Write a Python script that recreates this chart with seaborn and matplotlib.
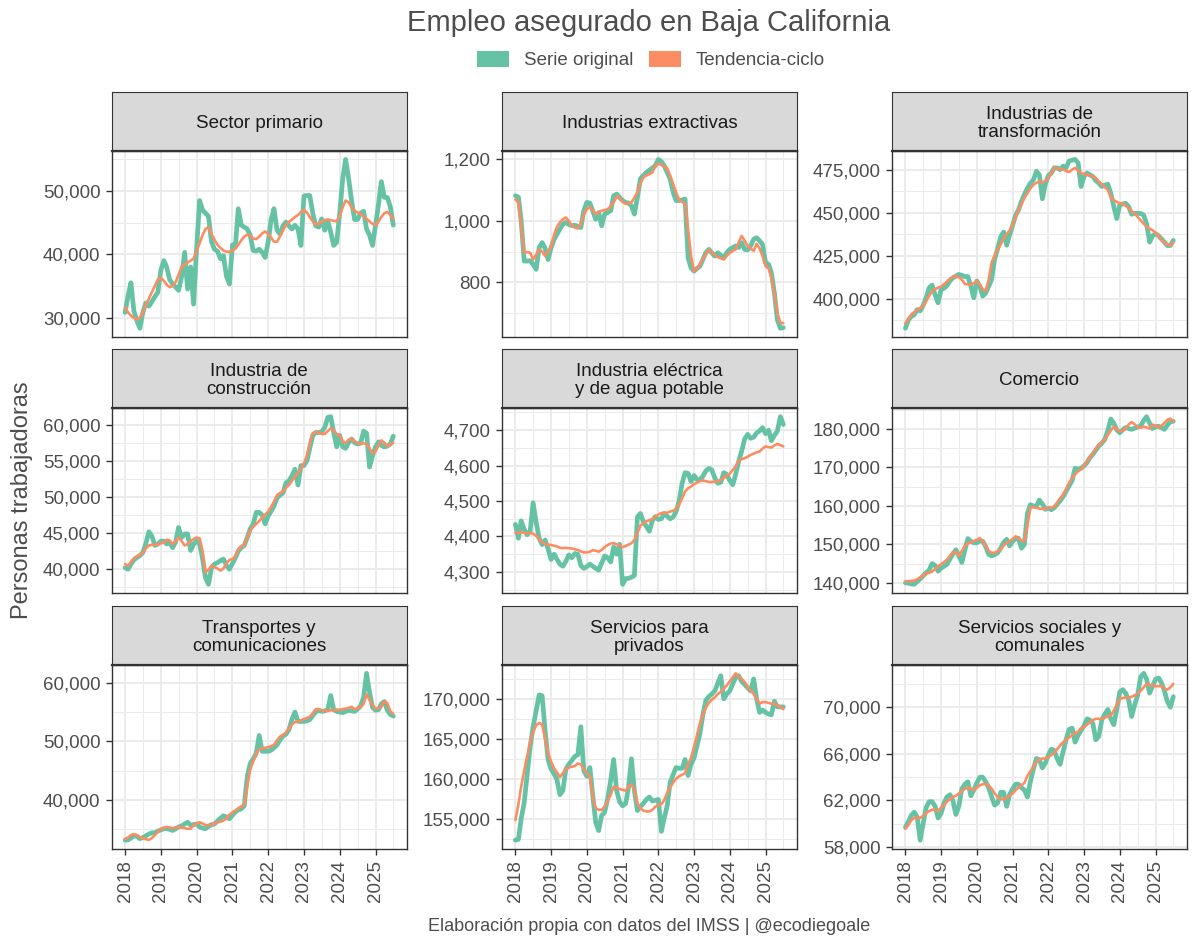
import numpy as np
import pandas as pd
import matplotlib
matplotlib.use("Agg")
import matplotlib.pyplot as plt
import matplotlib.dates as mdates
from matplotlib.ticker import MultipleLocator, FuncFormatter
from matplotlib.patches import Patch
import seaborn as sns

# ---------------- DATA ----------------
fechas = pd.date_range("2018-01-01", periods=91, freq="MS")

sectores = [
    "Sector primario", "Industrias extractivas", "Industrias de\ntransformación",
    "Industria de\nconstrucción", "Industria eléctrica\ny de agua potable", "Comercio",
    "Transportes y\ncomunicaciones", "Servicios para\nprivados", "Servicios sociales y\ncomunales",
]
series = ["Serie original", "Tendencia-ciclo"]

primario_orig = [
    30800, 33500, 35500, 31000, 29500, 28300, 30800, 32300, 31800, 32500, 33300, 34000,
    37500, 39000, 38000, 36000, 35300, 34800, 34300, 36500, 40300, 34500, 38000, 32100,
    41000, 48500, 47000, 46500, 46000, 42000, 40800, 40500, 39300, 39800, 36500, 35300,
    41500, 41500, 47200, 44600, 44300, 44000, 43000, 40600, 40500, 40800, 40300, 39500,
    42000, 45600, 47200, 43800, 43200, 44500, 45100, 44500, 44000, 44600, 44000, 41400,
    49200, 49300, 49300, 46500, 44500, 44300, 45600, 43800, 45300, 43500, 41400, 41900,
    46500, 52000, 55000, 52000, 48500, 45500, 45500, 46500, 46800, 44000, 43000, 41400,
    44600, 48000, 51500, 49000, 49000, 47500, 44600,
]
primario_tend = [
    31600, 30800, 30300, 29900, 29700, 30000, 30800, 32000, 33000, 34000, 35000, 36000,
    36300, 35800, 35200, 34800, 35000, 35600, 36800, 38000, 38400, 38700, 39000, 39300,
    40500, 41800, 43000, 44000, 44300, 43200, 42300, 41500, 41000, 40600, 40400, 40400,
    40600, 40900, 41500, 42200, 42800, 43100, 42900, 42500, 42400, 42800, 43300, 43600,
    43200, 42600, 42000, 42000, 42800, 43800, 44600, 45100, 45500, 45900, 46200, 46700,
    47000, 46600, 45900, 45200, 44700, 44800, 45100, 45400, 45500, 45400, 45300, 45200,
    46000, 47500, 48500, 48200, 47400, 46900, 46600, 46400, 46000, 45600, 45200, 44800,
    44600, 45200, 45900, 46500, 46700, 46200, 45600,
]

extractivas_orig = [
    1082, 1077, 1000, 869, 869, 870, 858, 842, 913, 929, 910, 874,
    913, 940, 956, 973, 989, 995, 988, 984, 986, 982, 978, 1033,
    1060, 1058, 1033, 1005, 1027, 984, 1022, 1027, 1033, 1082, 1087, 1076,
    1066, 1060, 1058, 1049, 1022, 1076, 1137, 1148, 1158, 1165, 1172, 1180,
    1200, 1193, 1180, 1158, 1137, 1093, 1066, 1066, 1068, 1071, 880, 847,
    836, 845, 852, 874, 896, 907, 896, 885, 896, 888, 880, 896,
    907, 913, 918, 913, 929, 907, 905, 918, 940, 945, 935, 923,
    863, 858, 831, 765, 678, 650, 652,
]
extractivas_tend = [
    1070, 1060, 980, 896, 898, 896, 874, 890, 907, 900, 885, 900,
    918, 955, 980, 995, 1005, 1011, 1000, 984, 978, 975, 990, 1020,
    1038, 1044, 1035, 1022, 1028, 1033, 1035, 1038, 1048, 1060, 1080, 1075,
    1062, 1056, 1055, 1060, 1075, 1093, 1120, 1142, 1148, 1152, 1158, 1180,
    1186, 1182, 1177, 1172, 1148, 1120, 1093, 1068, 1062, 1055, 973, 885,
    836, 845, 858, 875, 891, 905, 898, 888, 882, 878, 874, 886,
    896, 902, 907, 930, 951, 935, 918, 910, 902, 925, 910, 885,
    852, 845, 815, 760, 700, 667, 667,
]

transformacion_orig = [
    382700, 387600, 389500, 390600, 393500, 392800, 395900, 400400, 406300, 407800, 402000, 397500,
    405300, 406000, 407500, 410200, 412000, 413100, 414000, 413500, 412700, 412800, 407200, 400400,
    410200, 407200, 401400, 403300, 407000, 411200, 423000, 428900, 436000, 438700, 431000, 437000,
    442600, 448500, 451400, 456500, 460500, 464200, 467000, 469000, 474000, 472000, 458000, 466500,
    471500, 473000, 476000, 476000, 475000, 477000, 476000, 480000, 480500, 480900, 478900, 465200,
    471100, 473000, 472000, 471000, 468500, 467100, 465200, 466000, 466500, 461300, 453400, 446500,
    454400, 455000, 455400, 453400, 449000, 449500, 449500, 449500, 448500, 443500, 432800, 436500,
    437700, 436500, 434700, 432800, 430800, 430800, 433800,
]
transformacion_tend = [
    385600, 388000, 390600, 392000, 393300, 394500, 395800, 398500, 401500, 404300, 405500, 406300,
    407000, 408300, 409800, 411500, 412600, 413100, 412300, 411000, 408500, 408200, 408200, 409000,
    410200, 408000, 405500, 404300, 411000, 421000, 425000, 428500, 431500, 434800, 437500, 439500,
    443000, 447500, 451500, 455000, 458500, 461300, 464000, 466200, 467300, 468100, 467500, 468500,
    470000, 473000, 476000, 475700, 475300, 475000, 474200, 473600, 475000, 476000, 474500, 473000,
    472400, 472000, 471700, 471000, 470100, 468000, 466500, 464800, 463200, 458800, 457300, 456200,
    455400, 455000, 454000, 452400, 450800, 449500, 447500, 445500, 443500, 441800, 440700, 439700,
    438200, 436700, 434000, 432500, 431500, 430800, 432800,
]

construccion_orig = [
    40200, 40000, 40700, 41300, 41600, 41900, 42300, 43600, 45200, 44600, 43300, 43500,
    43900, 43900, 43500, 43700, 43000, 43800, 45800, 44400, 44900, 44900, 42600, 43500,
    43900, 43500, 41500, 38800, 37900, 40200, 40700, 40900, 41200, 41400, 40500, 40000,
    40800, 41600, 42500, 43000, 43300, 44400, 45600, 46300, 47900, 47900, 47500, 46300,
    47400, 48100, 48800, 49900, 50300, 50600, 52000, 52300, 53000, 53900, 51700, 54400,
    54400, 55100, 56800, 58600, 59000, 59000, 59100, 59700, 61100, 61200, 59000, 57000,
    58600, 57000, 56800, 57600, 58100, 57600, 57400, 57500, 59200, 58900, 54200, 55800,
    57000, 57700, 57200, 57000, 57100, 57400, 58500,
]
construccion_tend = [
    40700, 40500, 41000, 41500, 41800, 42000, 42300, 42900, 43300, 43400, 43400, 43400,
    43600, 43700, 44100, 44000, 43500, 43900, 44400, 43900, 43300, 43500, 43900, 44200,
    44400, 44300, 42500, 39600, 39900, 40500, 40300, 40100, 39800, 40100, 40800, 41300,
    41400, 41800, 42800, 43200, 43400, 44500, 45400, 45900, 46300, 46700, 47200, 47600,
    48000, 48700, 49400, 50300, 50600, 50800, 51300, 51700, 52300, 52900, 53300, 54000,
    54700, 55800, 57600, 58900, 59100, 59000, 58800, 58800, 59200, 59600, 59300, 58800,
    58600, 57800, 57500, 58000, 58100, 57800, 57500, 57500, 57500, 57400, 56800, 56100,
    56400, 57200, 57900, 57600, 57100, 57300, 57600,
]

electrica_orig = [
    4434, 4395, 4444, 4420, 4405, 4415, 4495, 4440, 4395, 4377, 4390, 4365,
    4335, 4350, 4336, 4322, 4316, 4330, 4348, 4340, 4352, 4350, 4318, 4310,
    4315, 4322, 4316, 4310, 4305, 4325, 4345, 4340, 4328, 4370, 4350, 4378,
    4265, 4281, 4282, 4285, 4290, 4455, 4465, 4442, 4428, 4415, 4445, 4456,
    4448, 4450, 4465, 4457, 4450, 4455, 4470, 4500, 4550, 4580, 4578, 4555,
    4572, 4560, 4560, 4570, 4585, 4592, 4588, 4565, 4550, 4553, 4580, 4575,
    4558, 4546, 4575, 4612, 4640, 4675, 4688, 4677, 4680, 4692, 4698, 4707,
    4690, 4700, 4670, 4685, 4697, 4738, 4716,
]
electrica_tend = [
    4410, 4411, 4412, 4410, 4408, 4410, 4408, 4402, 4392, 4384, 4378, 4377,
    4376, 4374, 4372, 4368, 4367, 4368, 4367, 4366, 4364, 4362, 4358, 4355,
    4355, 4357, 4361, 4360, 4357, 4362, 4370, 4376, 4380, 4381, 4378, 4374,
    4370, 4373, 4377, 4381, 4390, 4410, 4430, 4437, 4443, 4446, 4449, 4456,
    4462, 4466, 4467, 4467, 4470, 4473, 4477, 4490, 4508, 4527, 4536, 4541,
    4548, 4552, 4556, 4558, 4556, 4554, 4554, 4554, 4556, 4560, 4565, 4571,
    4577, 4588, 4598, 4614, 4618, 4621, 4625, 4630, 4634, 4637, 4640, 4648,
    4654, 4652, 4651, 4657, 4661, 4658, 4654,
]

comercio_orig = [
    140000, 139900, 139700, 139600, 140300, 141000, 141800, 142600, 143300, 145000, 144500, 143000,
    143800, 144300, 144800, 146200, 147500, 148600, 147000, 145300, 148500, 151500, 150800, 150400,
    150400, 150900, 150800, 149400, 147400, 147000, 147300, 147800, 149000, 150500, 151300, 149600,
    150800, 151400, 151600, 149000, 150000, 158000, 160300, 160000, 159900, 161500, 160500, 159100,
    159400, 159000, 159500, 160400, 161300, 162400, 163800, 165200, 166600, 169800, 169500, 169800,
    170400, 171300, 172500, 173400, 174500, 175600, 176300, 177300, 179600, 182600, 181500, 179800,
    179000, 179800, 180400, 180100, 179900, 180200, 180500, 180800, 182200, 183200, 181500, 180100,
    180600, 180700, 180300, 179900, 181000, 181900, 182000,
]
comercio_tend = [
    140400, 140400, 140500, 140600, 140900, 141400, 141900, 142400, 142600, 142900, 143600, 144300,
    144800, 145400, 146000, 147000, 147900, 148000, 147000, 148300, 149600, 150300, 150500, 150800,
    151200, 151600, 150800, 149600, 148300, 147800, 147800, 148200, 148700, 149700, 150400, 150800,
    151400, 152100, 151600, 151000, 150800, 155000, 159500, 159700, 159500, 159300, 159200, 159300,
    159500, 159500, 159700, 160800, 162000, 162900, 164300, 166000, 167200, 168200, 169000, 169500,
    170400, 171500, 172600, 173600, 174800, 175900, 176500, 177200, 178500, 179600, 180600, 180000,
    179400, 179700, 180000, 181200, 181800, 181200, 180500, 180300, 180600, 180400, 180100, 181100,
    180900, 180300, 180800, 181600, 182400, 182700, 182000,
]

transportes_orig = [
    33150, 33200, 33500, 33900, 33800, 33400, 33600, 33900, 34200, 34400, 34400, 34700,
    34900, 35100, 35100, 35000, 34800, 35100, 35400, 35600, 35900, 36200, 35700, 35800,
    35900, 35400, 35200, 35100, 35500, 35800, 35900, 36400, 36900, 37300, 37100, 36800,
    37400, 38000, 38300, 38500, 39000, 44000, 46200, 47000, 48000, 51000, 48300, 48300,
    48300, 48500, 48900, 49400, 50200, 50900, 51200, 52000, 53800, 55000, 53400, 53400,
    53400, 53500, 53700, 54400, 55000, 55300, 55100, 55200, 55400, 57800, 55400, 55100,
    55000, 54900, 55100, 55300, 55200, 55100, 55500, 56000, 57500, 61600, 58300, 55800,
    55300, 55400, 56400, 56800, 55300, 54600, 54300,
]
transportes_tend = [
    33400, 33600, 34000, 34200, 34000, 33700, 33500, 33300, 33200, 33500, 34000, 34600,
    35000, 35300, 35400, 35300, 35200, 35300, 35400, 35300, 35200, 35100, 35100, 35700,
    36000, 36200, 36000, 35700, 35700, 35800, 36000, 36200, 36300, 36500, 36800, 37500,
    37900, 38200, 38600, 38900, 39200, 42400, 45200, 46600, 47900, 48600, 48800, 48900,
    49000, 49200, 49400, 50200, 50800, 51100, 51500, 52200, 52900, 53300, 53400, 53600,
    53800, 54000, 54200, 54800, 55500, 55500, 55300, 55200, 55200, 55300, 55300, 55400,
    55400, 55500, 55600, 55700, 55900, 55500, 55600, 55900, 56400, 58000, 57000, 56200,
    55600, 55700, 55900, 56900, 56500, 55100, 54700,
]

privados_orig = [
    152300, 152400, 155000, 157000, 160500, 164000, 166500, 168500, 170500, 170400, 166000, 162400,
    161200, 160600, 159900, 158000, 158500, 161200, 161800, 162300, 162800, 163000, 166500, 161000,
    160300, 161400, 158000, 154500, 153500, 155400, 155800, 157500, 159800, 162400, 158500, 157100,
    156600, 156900, 158800, 162500, 158500, 156000, 156500, 156900, 157400, 157700, 157200, 157300,
    157400, 153400, 155000, 156600, 159500, 160500, 161400, 161300, 161300, 162400, 160400, 161800,
    162600, 164200, 165600, 168000, 169800, 170300, 170600, 171000, 172000, 172900, 170000, 170600,
    171000, 171900, 172700, 172900, 172200, 171800, 171400, 171000, 172500, 170000, 168300, 168600,
    168300, 168100, 168000, 169700, 169000, 169000, 169000,
]
privados_tend = [
    154800, 156800, 159000, 161000, 162800, 164600, 165800, 166700, 167000, 166800, 165000, 163200,
    162100, 161300, 160800, 160200, 160700, 161200, 161400, 161500, 161600, 161900, 161800, 161200,
    160700, 160300, 157800, 156300, 156100, 156100, 156500, 157200, 158000, 159000, 158900, 158700,
    158600, 158500, 159000, 159300, 158600, 156900, 156300, 156000, 155900, 155900, 156100, 156500,
    156700, 156800, 157300, 158200, 158900, 159500, 160000, 160300, 160500, 160700, 161800, 162600,
    164000, 165500, 166900, 168000, 168900, 169500, 169900, 170200, 170600, 170900, 171300, 171700,
    172200, 172700, 173200, 172800, 172500, 172100, 171500, 171100, 170600, 170000, 169400, 169600,
    169600, 169500, 169400, 169400, 169200, 169000, 168700,
]

sociales_orig = [
    59700, 60200, 60700, 61000, 60600, 58600, 60000, 61400, 61900, 61900, 61500, 60500,
    60900, 61800, 62300, 62500, 62000, 60800, 61500, 63000, 63400, 63600, 62400, 62900,
    63500, 64000, 64000, 63600, 63100, 62300, 61600, 61800, 62700, 62700, 61500, 62500,
    63000, 63400, 63400, 63100, 62900, 62300, 63600, 64700, 65600, 65500, 64800, 65200,
    65900, 66400, 66300, 65600, 65100, 66200, 67200, 68100, 68200, 67000, 67600, 68000,
    68400, 69000, 68900, 68600, 67200, 67500, 68900, 69400, 69800, 69000, 68500, 69800,
    71300, 71500, 71200, 70600, 69200, 70200, 71000, 72600, 72900, 72400, 71200, 71800,
    72400, 72500, 72100, 71400, 70500, 70000, 70900,
]
sociales_tend = [
    59600, 59900, 60300, 60500, 60500, 60500, 60700, 60900, 61100, 61200, 61200, 61100,
    61400, 61600, 61900, 62100, 62300, 62400, 62600, 62800, 63000, 63100, 63000, 62900,
    63100, 63300, 63400, 63400, 63300, 63000, 62600, 62300, 62100, 62100, 62200, 62400,
    62600, 62900, 63100, 63300, 63500, 64100, 64500, 64900, 65300, 65500, 65600, 65600,
    65700, 65900, 66100, 66400, 66700, 67000, 67200, 67400, 67600, 67800, 67900, 68200,
    68300, 68500, 68700, 68900, 69000, 69000, 69000, 69100, 69200, 69300, 69700, 70200,
    70700, 70800, 70800, 70800, 70900, 71000, 71200, 71400, 71700, 72000, 71900, 71900,
    71800, 71800, 71800, 71600, 71500, 71700, 72000,
]

originales = [primario_orig, extractivas_orig, transformacion_orig, construccion_orig,
              electrica_orig, comercio_orig, transportes_orig, privados_orig, sociales_orig]
tendencias = [primario_tend, extractivas_tend, transformacion_tend, construccion_tend,
              electrica_tend, comercio_tend, transportes_tend, privados_tend, sociales_tend]

# y-axis major tick step and offset per panel
pasos_y = [10000, 200, 25000, 5000, 100, 10000, 10000, 5000, 4000]
offsets_y = [0, 0, 0, 0, 0, 0, 0, 0, 2000]

rows = []
for s, o, t in zip(sectores, originales, tendencias):
    for f, vo, vt in zip(fechas, o, t):
        rows.append((s, f, series[0], vo))
        rows.append((s, f, series[1], vt))
df = pd.DataFrame(rows, columns=["sector", "fecha", "serie", "valor"])

# ---------------- STYLE ----------------
sns.set_theme(style="white")
plt.rcParams["font.family"] = ["Liberation Sans", "DejaVu Sans"]

VERDE = "#66C2A5"
NARANJA = "#FC8D62"
palette = {series[0]: VERDE, series[1]: NARANJA}
sizes = {series[0]: 3.4, series[1]: 1.9}
TXT = "#4D4D4D"
DARK = "#333333"

W, H = 1200, 947
fig = plt.figure(figsize=(W / 100, H / 100), dpi=100, facecolor="white")

def rect(l, t, r, b):
    return [l / W, 1 - b / H, (r - l) / W, (b - t) / H]

cols = [(111.7, 406.7), (502, 796.7), (892, 1186.7)]
panel_rows = [(151, 336.7), (408.3, 592.7), (665, 848.5)]
strip_tops = [92, 349, 606]

for i, sector in enumerate(sectores):
    r, c = divmod(i, 3)
    l, rr = cols[c]
    t, b = panel_rows[r]
    ax = fig.add_axes(rect(l, t, rr, b))
    sub = df[df["sector"] == sector]
    sns.lineplot(data=sub, x="fecha", y="valor", hue="serie", size="serie",
                 hue_order=series, size_order=series, palette=palette, sizes=sizes,
                 estimator=None, legend=False, ax=ax)
    ax.set_xlabel("")
    ax.set_ylabel("")
    ax.set_facecolor("white")
    ax.margins(x=0.05, y=0.05)
    paso = pasos_y[i]
    ax.yaxis.set_major_locator(MultipleLocator(paso, offset=offsets_y[i]))
    ax.yaxis.set_minor_locator(MultipleLocator(paso / 2))
    ax.yaxis.set_major_formatter(FuncFormatter(lambda v, _: f"{v:,.0f}"))
    ax.xaxis.set_major_locator(mdates.YearLocator(1))
    ax.xaxis.set_minor_locator(mdates.MonthLocator(bymonth=7))
    ax.xaxis.set_major_formatter(mdates.DateFormatter("%Y"))
    ax.grid(which="major", color="#EBEBEB", lw=1.4)
    ax.grid(which="minor", color="#EBEBEB", lw=0.7)
    ax.set_axisbelow(True)
    for sp in ax.spines.values():
        sp.set_color(DARK)
        sp.set_linewidth(1.0)
    ax.tick_params(axis="y", which="major", left=True, length=4, width=1.0, color=DARK,
                   pad=4, labelsize=13.5, labelcolor=TXT)
    ax.tick_params(axis="y", which="minor", left=False)
    ax.tick_params(axis="x", which="minor", bottom=False)
    if r == 2:
        ax.tick_params(axis="x", which="major", bottom=True, length=4.5, width=1.0,
                       color=DARK, pad=4, labelsize=13.5, labelcolor=TXT, labelrotation=90)
    else:
        ax.tick_params(axis="x", which="major", bottom=False, labelbottom=False)

    # strip
    sax = fig.add_axes(rect(l, strip_tops[r], rr, t))
    sax.set_facecolor("#D9D9D9")
    sax.set_xticks([])
    sax.set_yticks([])
    for sp in sax.spines.values():
        sp.set_color(DARK)
        sp.set_linewidth(0.8)
    sax.spines["bottom"].set_linewidth(1.6)
    sax.text(0.5, 0.47, sector, ha="center", va="center", fontsize=13.5,
             color="#1A1A1A", linespacing=1.1, transform=sax.transAxes)

# title, legend, labels
fig.text(649 / W, 1 - 23 / H, "Empleo asegurado en Baja California", ha="center",
         va="center", fontsize=21, color=TXT)
handles = [Patch(facecolor=VERDE, edgecolor="none", label=series[0]),
           Patch(facecolor=NARANJA, edgecolor="none", label=series[1])]
fig.legend(handles=handles, loc="center", bbox_to_anchor=(651 / W, 1 - 60 / H), ncol=2,
           frameon=False, fontsize=13.5, labelcolor=TXT, handlelength=1.7,
           handleheight=1.0, handletextpad=0.8, columnspacing=0.85)
fig.text(22 / W, 1 - 500 / H, "Personas trabajadoras", rotation=90, ha="center",
         va="center", fontsize=17, color=TXT)
fig.text(649 / W, 1 - 926 / H, "Elaboración propia con datos del IMSS | @ecodiegoale",
         ha="center", va="center", fontsize=13, color=TXT)

fig.savefig("out.png", dpi=100, facecolor="white")
